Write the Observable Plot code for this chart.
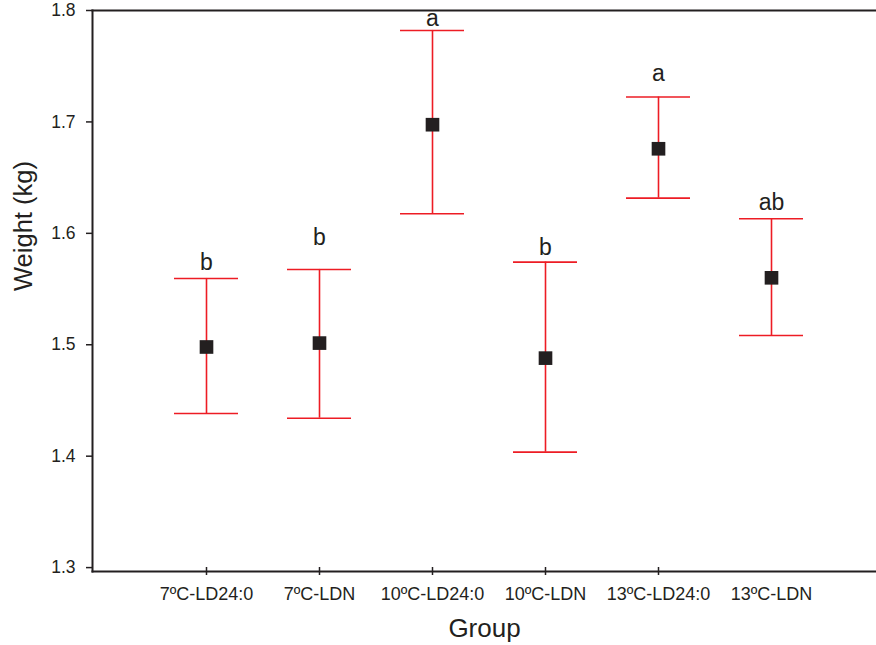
<!DOCTYPE html>
<html>
<head>
<meta charset="utf-8">
<script src="https://cdn.jsdelivr.net/npm/d3@7"></script>
<script src="https://cdn.jsdelivr.net/npm/@observablehq/plot@0.6"></script>
<style>
  html, body { margin: 0; padding: 0; background: #fff; overflow: hidden; }
  #chart svg { display: block; }
</style>
</head>
<body>
<div id="chart"></div>
<script>
const groups = ["7ºC-LD24:0", "7ºC-LDN", "10ºC-LD24:0", "10ºC-LDN", "13ºC-LD24:0", "13ºC-LDN"];
const means  = [1.498, 1.5015, 1.6975, 1.488, 1.6759, 1.5601];
const upper  = [1.5595, 1.5676, 1.7821, 1.5742, 1.7223, 1.6131];
const lower  = [1.4383, 1.4341, 1.6176, 1.4036, 1.6316, 1.5083];
const letters = ["b", "b", "a", "b", "a", "ab"];
const letterY = [1.5673, 1.5891, 1.7857, 1.5802, 1.7364, 1.6212];
const yTicks = [1.3, 1.4, 1.5, 1.6, 1.7, 1.8];
const xTickMarks = groups.slice(0, 5);

const data = groups.map((g, i) => ({group: g, mean: means[i], hi: upper[i], lo: lower[i], letter: letters[i], ly: letterY[i]}));

const ink = "#231f20";
const red = "#ed1c24";
const font = "'Liberation Sans', Arial, Helvetica, sans-serif";

const chart = Plot.plot({
  width: 876,
  height: 645,
  marginLeft: 92,
  marginRight: 0,
  marginTop: 10,
  marginBottom: 74,
  style: {fontFamily: font, color: ink, background: "#fff", overflow: "hidden"},
  x: {type: "band", domain: groups, range: [92, 885], paddingInner: 0.435, paddingOuter: 0.7175, align: 0.5},
  y: {domain: [1.2965, 1.8], range: [571, 10]},
  marks: [
    // error bars
    Plot.ruleX(data, {x: "group", y1: "lo", y2: "hi", stroke: red, strokeWidth: 1.6}),
    Plot.tickY(data, {x: "group", y: "hi", stroke: red, strokeWidth: 1.6}),
    Plot.tickY(data, {x: "group", y: "lo", stroke: red, strokeWidth: 1.6}),
    Plot.dot(data, {x: "group", y: "mean", symbol: "square", r: 7.7, fill: ink, stroke: null}),
    Plot.text(data, {x: "group", y: "ly", text: "letter", lineAnchor: "bottom", fontSize: 23, fill: ink}),
    // frame lines
    Plot.frame({anchor: "left", stroke: ink, strokeWidth: 2}),
    Plot.frame({anchor: "top", stroke: ink, strokeWidth: 2}),
    Plot.frame({anchor: "bottom", stroke: ink, strokeWidth: 2}),
    // axes
    Plot.axisY({ticks: yTicks, tickFormat: d3.format(".1f"), tickSize: 6, tickPadding: 11, fontSize: 17.5, stroke: ink, strokeWidth: 1.5, fill: ink, label: null}),
    Plot.axisX({ticks: xTickMarks, tickSize: 8, dy: -4, text: null, stroke: ink, strokeWidth: 1.5, label: null}),
    Plot.axisX({ticks: groups, tickSize: 0, tickPadding: 16, fontSize: 18, fill: ink, label: null}),
    // axis titles
    Plot.text(["Group"], {frameAnchor: "bottom", text: d => d, lineAnchor: "top", dy: 47, fontSize: 26, fill: ink}),
    Plot.text(["Weight (kg)"], {frameAnchor: "left", text: d => d, rotate: -90, lineAnchor: "top", dx: -79, fontSize: 25.5, fill: ink})
  ]
});
document.getElementById("chart").appendChild(chart);
</script>
</body>
</html>
